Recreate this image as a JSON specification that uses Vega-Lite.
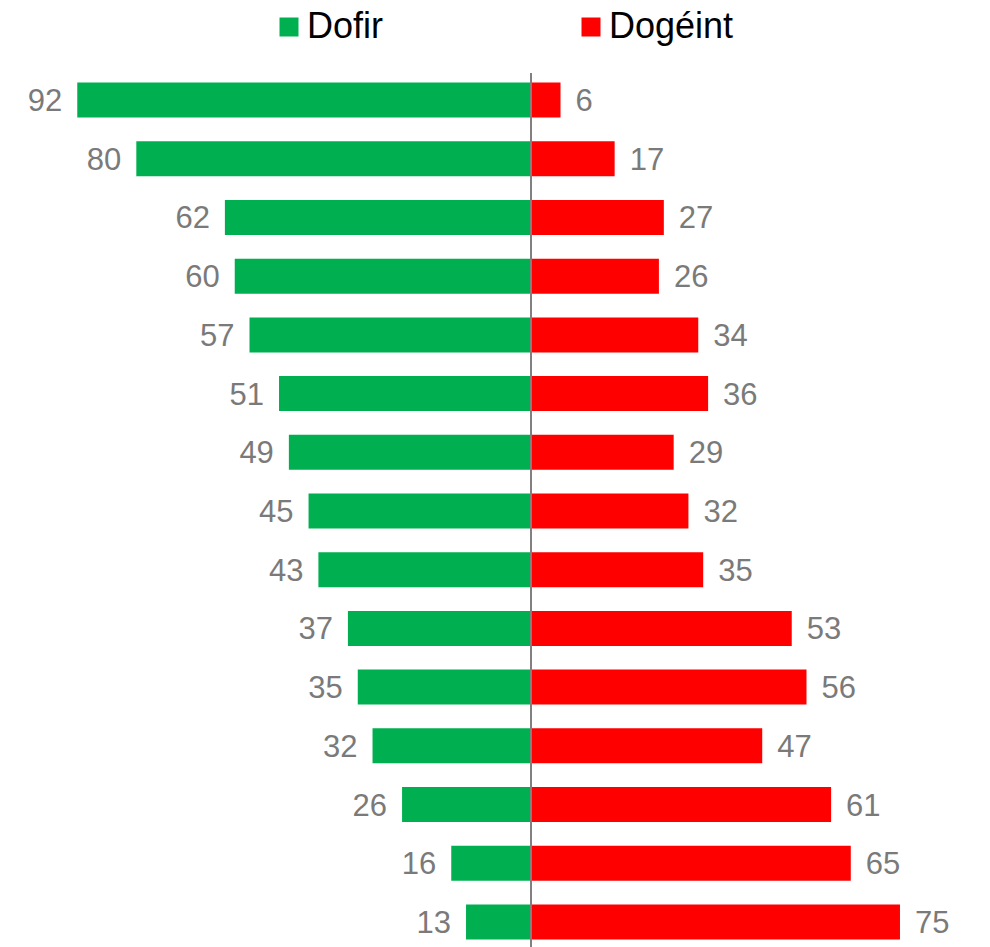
{
  "$schema": "https://vega.github.io/schema/vega-lite/v6.json",
  "autosize": {"type": "pad"},
  "padding": {"left": 0, "top": 9, "right": 0, "bottom": 0},
  "background": "white",
  "config": {
    "view": {"stroke": null},
    "font": "Liberation Sans",
    "legend": {
      "orient": "none",
      "direction": "horizontal",
      "columns": 2,
      "columnPadding": 189,
      "padding": 0,
      "legendX": 271,
      "legendY": -64,
      "symbolType": "square",
      "symbolSize": 361,
      "symbolStrokeWidth": 0,
      "symbolOpacity": 1,
      "labelFontSize": 36,
      "labelFont": "Liberation Sans",
      "labelColor": "#000000",
      "labelOffset": 0,
      "labelLimit": 300,
      "title": null
    }
  },
  "datasets": {
    "rows": [
      {"r": 1, "s": "Dofir", "v": 92}, {"r": 1, "s": "Dogéint", "v": 6},
      {"r": 2, "s": "Dofir", "v": 80}, {"r": 2, "s": "Dogéint", "v": 17},
      {"r": 3, "s": "Dofir", "v": 62}, {"r": 3, "s": "Dogéint", "v": 27},
      {"r": 4, "s": "Dofir", "v": 60}, {"r": 4, "s": "Dogéint", "v": 26},
      {"r": 5, "s": "Dofir", "v": 57}, {"r": 5, "s": "Dogéint", "v": 34},
      {"r": 6, "s": "Dofir", "v": 51}, {"r": 6, "s": "Dogéint", "v": 36},
      {"r": 7, "s": "Dofir", "v": 49}, {"r": 7, "s": "Dogéint", "v": 29},
      {"r": 8, "s": "Dofir", "v": 45}, {"r": 8, "s": "Dogéint", "v": 32},
      {"r": 9, "s": "Dofir", "v": 43}, {"r": 9, "s": "Dogéint", "v": 35},
      {"r": 10, "s": "Dofir", "v": 37}, {"r": 10, "s": "Dogéint", "v": 53},
      {"r": 11, "s": "Dofir", "v": 35}, {"r": 11, "s": "Dogéint", "v": 56},
      {"r": 12, "s": "Dofir", "v": 32}, {"r": 12, "s": "Dogéint", "v": 47},
      {"r": 13, "s": "Dofir", "v": 26}, {"r": 13, "s": "Dogéint", "v": 61},
      {"r": 14, "s": "Dofir", "v": 16}, {"r": 14, "s": "Dogéint", "v": 65},
      {"r": 15, "s": "Dofir", "v": 13}, {"r": 15, "s": "Dogéint", "v": 75}
    ]
  },
  "spacing": 0,
  "hconcat": [
    {
      "width": 530,
      "height": 876,
      "data": {"name": "rows"},
      "transform": [{"filter": "datum.s === 'Dofir'"}],
      "encoding": {
        "y": {"field": "r", "type": "ordinal", "sort": "ascending", "axis": null,
              "scale": {"paddingInner": 0.404, "paddingOuter": 0.163}},
        "x": {"field": "v", "type": "quantitative", "axis": null,
              "scale": {"domain": [0, 107.7], "reverse": true, "nice": false}}
      },
      "layer": [
        {
          "mark": {"type": "bar"},
          "encoding": {
            "x2": {"datum": 0},
            "color": {"field": "s", "type": "nominal",
                      "scale": {"domain": ["Dofir", "Dogéint"], "range": ["#00B050", "#FF0000"]}}
          }
        },
        {
          "mark": {"type": "text", "align": "right", "baseline": "middle", "dx": -15, "dy": 2,
                   "fontSize": 31, "color": "#7a7a7a", "font": "Liberation Sans"},
          "encoding": {"text": {"field": "v", "type": "quantitative"}}
        }
      ]
    },
    {
      "width": 460,
      "height": 876,
      "data": {"name": "rows"},
      "transform": [{"filter": "datum.s === 'Dogéint'"}],
      "encoding": {
        "y": {"field": "r", "type": "ordinal", "sort": "ascending", "axis": null,
              "scale": {"paddingInner": 0.404, "paddingOuter": 0.163}},
        "x": {"field": "v", "type": "quantitative", "axis": null,
              "scale": {"domain": [0, 93.5], "nice": false}}
      },
      "layer": [
        {
          "mark": {"type": "bar"},
          "encoding": {
            "x2": {"datum": 0},
            "color": {"field": "s", "type": "nominal",
                      "scale": {"domain": ["Dofir", "Dogéint"], "range": ["#00B050", "#FF0000"]}}
          }
        },
        {
          "mark": {"type": "text", "align": "left", "baseline": "middle", "dx": 15, "dy": 2,
                   "fontSize": 31, "color": "#7a7a7a", "font": "Liberation Sans"},
          "encoding": {"text": {"field": "v", "type": "quantitative"}}
        },
        {
          "mark": {"type": "rule", "color": "#808080", "strokeWidth": 1},
          "encoding": {"x": {"datum": 0}, "y": null}
        }
      ]
    }
  ]
}
